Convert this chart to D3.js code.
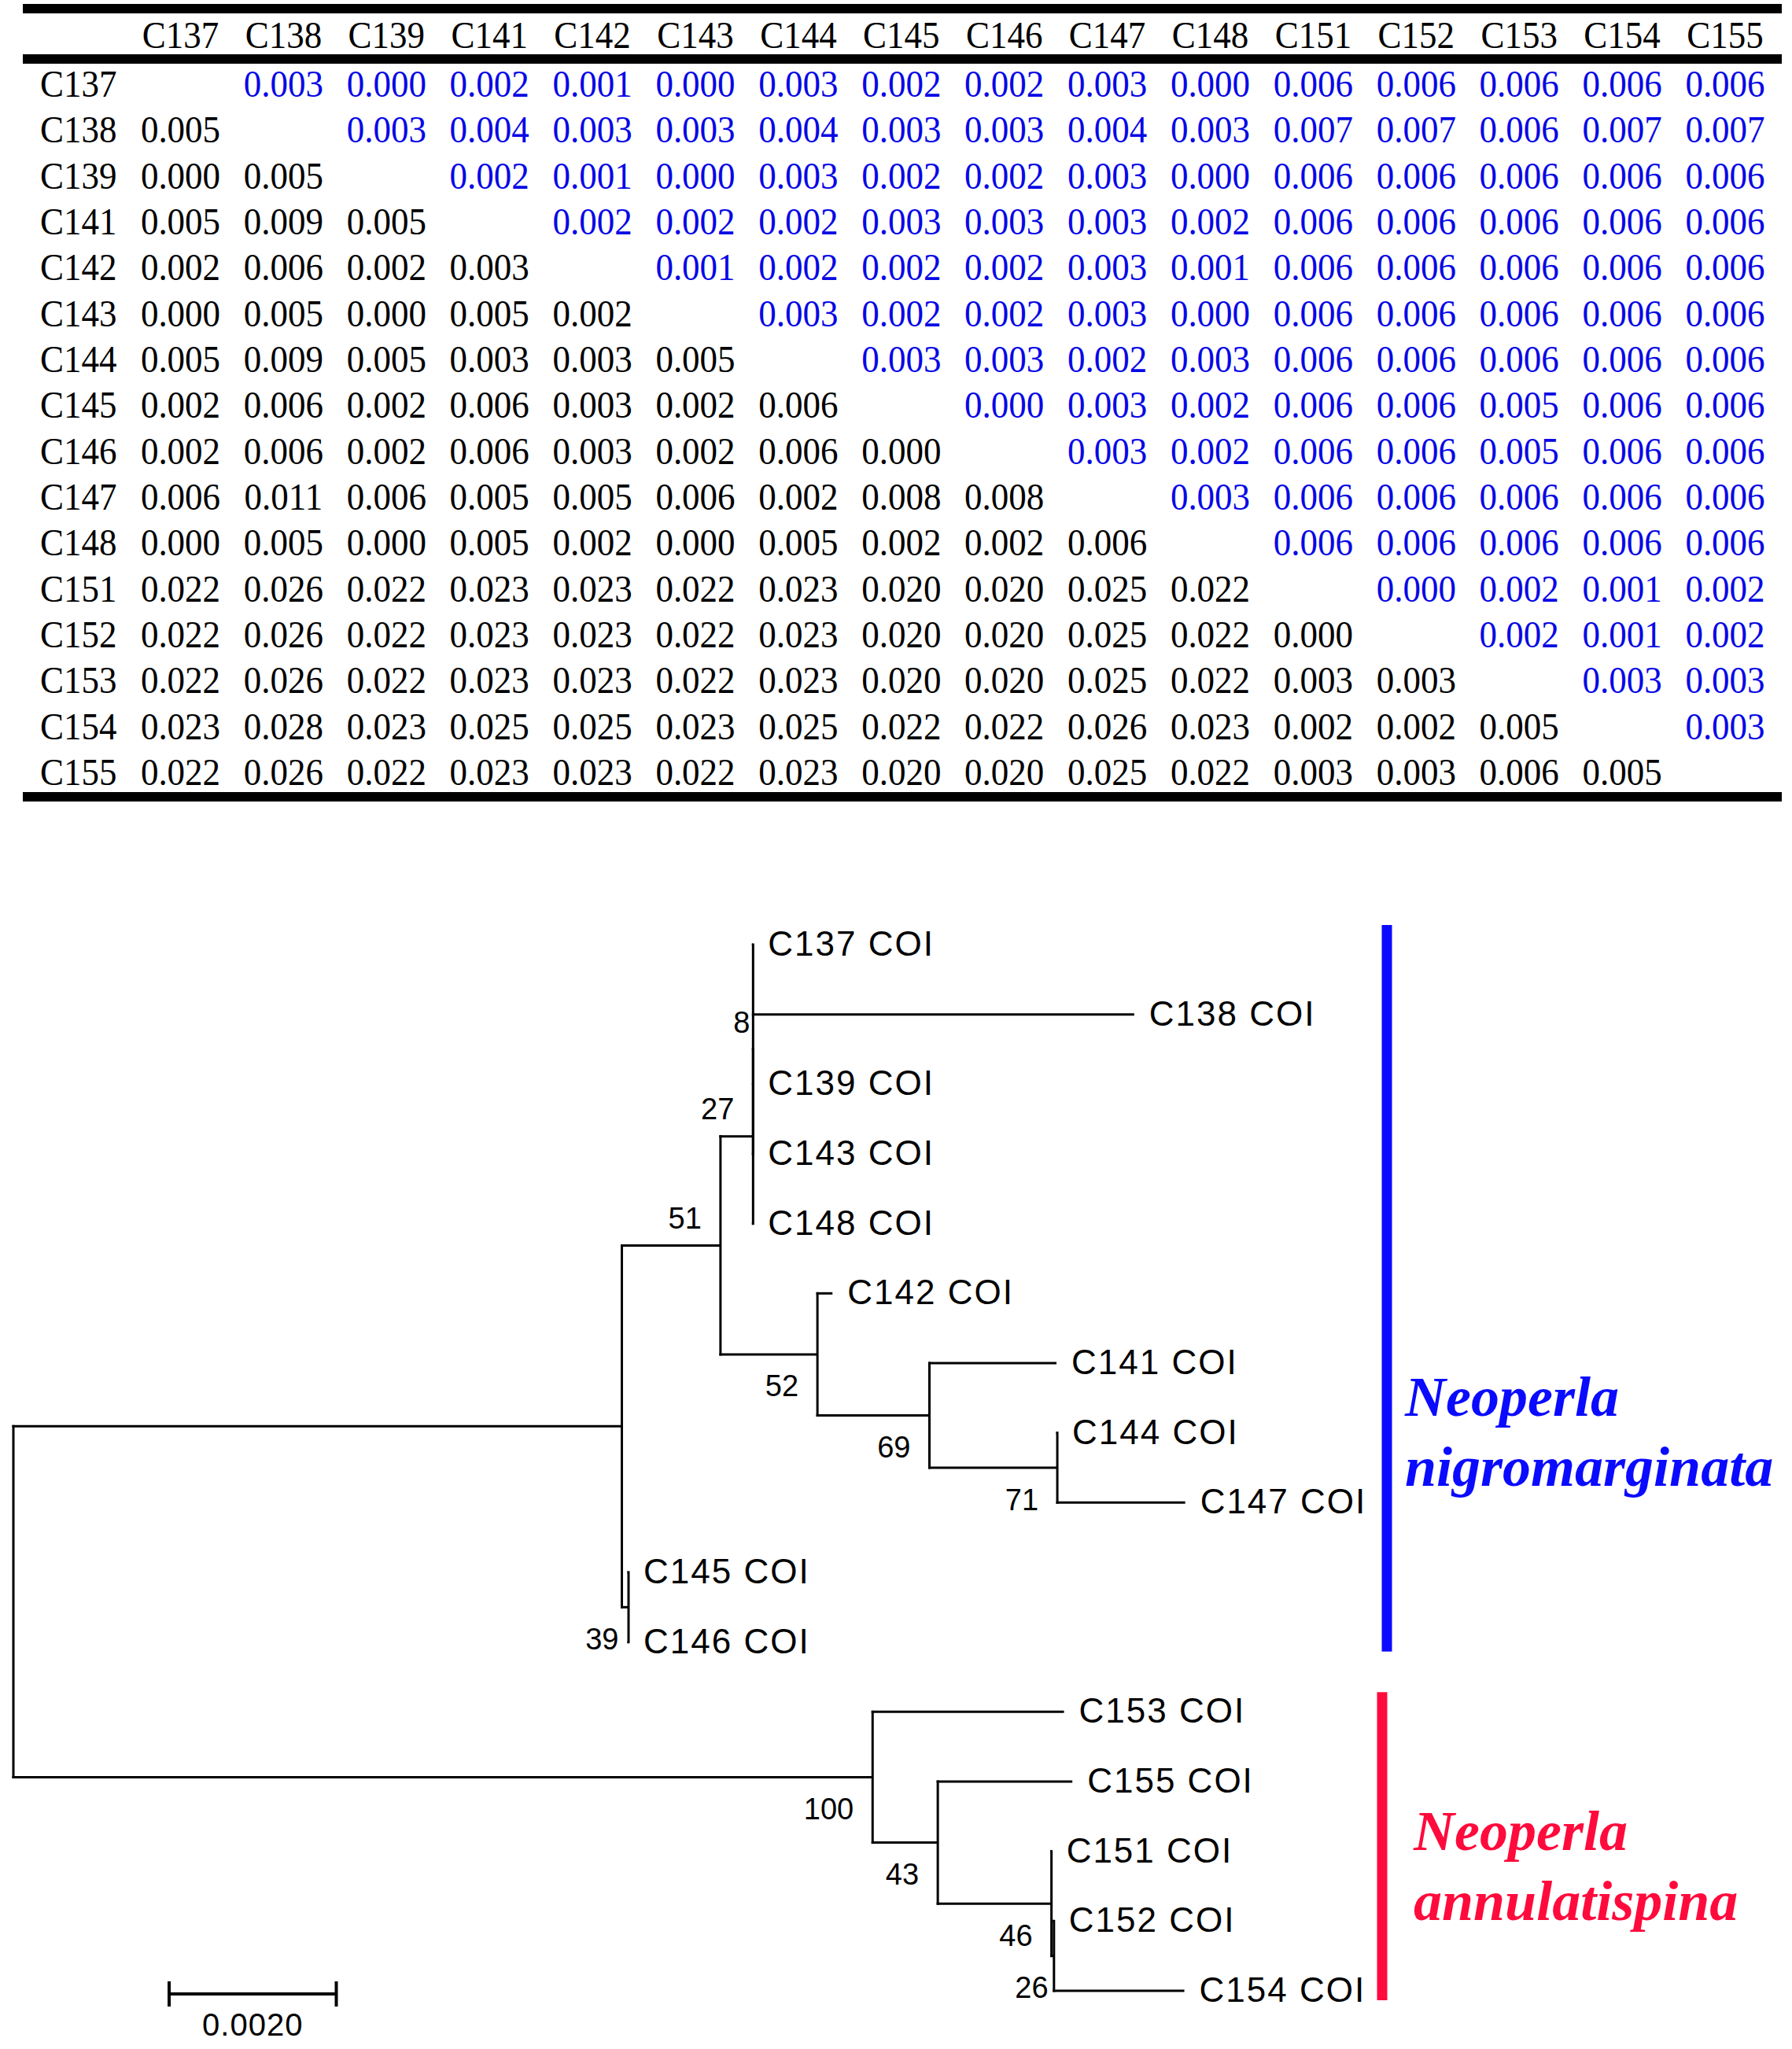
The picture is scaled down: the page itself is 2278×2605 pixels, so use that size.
<!DOCTYPE html>
<html>
<head>
<meta charset="utf-8">
<script src="https://cdn.jsdelivr.net/npm/d3@7"></script>
<style>
html,body{margin:0;padding:0;background:#ffffff;}
svg{display:block;}
</style>
</head>
<body>
<script>
// ---------------- DATA ----------------
const taxa = ["C137","C138","C139","C141","C142","C143","C144","C145","C146","C147","C148","C151","C152","C153","C154","C155"];

// upper triangle (blue), row i holds values for columns i+1..15
const upperValues = [
  [0.003,0.000,0.002,0.001,0.000,0.003,0.002,0.002,0.003,0.000,0.006,0.006,0.006,0.006,0.006],
  [0.003,0.004,0.003,0.003,0.004,0.003,0.003,0.004,0.003,0.007,0.007,0.006,0.007,0.007],
  [0.002,0.001,0.000,0.003,0.002,0.002,0.003,0.000,0.006,0.006,0.006,0.006,0.006],
  [0.002,0.002,0.002,0.003,0.003,0.003,0.002,0.006,0.006,0.006,0.006,0.006],
  [0.001,0.002,0.002,0.002,0.003,0.001,0.006,0.006,0.006,0.006,0.006],
  [0.003,0.002,0.002,0.003,0.000,0.006,0.006,0.006,0.006,0.006],
  [0.003,0.003,0.002,0.003,0.006,0.006,0.006,0.006,0.006],
  [0.000,0.003,0.002,0.006,0.006,0.005,0.006,0.006],
  [0.003,0.002,0.006,0.006,0.005,0.006,0.006],
  [0.003,0.006,0.006,0.006,0.006,0.006],
  [0.006,0.006,0.006,0.006,0.006],
  [0.000,0.002,0.001,0.002],
  [0.002,0.001,0.002],
  [0.003,0.003],
  [0.003],
  []
];

// lower triangle (black), row i holds values for columns 0..i-1
const lowerValues = [
  [],
  [0.005],
  [0.000,0.005],
  [0.005,0.009,0.005],
  [0.002,0.006,0.002,0.003],
  [0.000,0.005,0.000,0.005,0.002],
  [0.005,0.009,0.005,0.003,0.003,0.005],
  [0.002,0.006,0.002,0.006,0.003,0.002,0.006],
  [0.002,0.006,0.002,0.006,0.003,0.002,0.006,0.000],
  [0.006,0.011,0.006,0.005,0.005,0.006,0.002,0.008,0.008],
  [0.000,0.005,0.000,0.005,0.002,0.000,0.005,0.002,0.002,0.006],
  [0.022,0.026,0.022,0.023,0.023,0.022,0.023,0.020,0.020,0.025,0.022],
  [0.022,0.026,0.022,0.023,0.023,0.022,0.023,0.020,0.020,0.025,0.022,0.000],
  [0.022,0.026,0.022,0.023,0.023,0.022,0.023,0.020,0.020,0.025,0.022,0.003,0.003],
  [0.023,0.028,0.023,0.025,0.025,0.023,0.025,0.022,0.022,0.026,0.023,0.002,0.002,0.005],
  [0.022,0.026,0.022,0.023,0.023,0.022,0.023,0.020,0.020,0.025,0.022,0.003,0.003,0.006,0.005]
];

// tree: id, parent, branch length (substitutions/site), bootstrap support
const treeNodes = [
  {id:"root", parent:null,  length:0,       support:null},
  {id:"G",    parent:"root",length:0.00728, support:null},
  {id:"B",    parent:"G",   length:0.00118, support:51},
  {id:"A",    parent:"B",   length:0.00039, support:27},
  {id:"n8",   parent:"A",   length:0,       support:8},
  {id:"C137", parent:"n8",  length:0,       support:null},
  {id:"C138", parent:"n8",  length:0.00456, support:null},
  {id:"C139", parent:"n8",  length:0,       support:null},
  {id:"C143", parent:"n8",  length:0,       support:null},
  {id:"C148", parent:"A",   length:0,       support:null},
  {id:"D",    parent:"B",   length:0.00116, support:52},
  {id:"C142", parent:"D",   length:0.00018, support:null},
  {id:"E",    parent:"D",   length:0.00134, support:69},
  {id:"C141", parent:"E",   length:0.00152, support:null},
  {id:"F",    parent:"E",   length:0.00153, support:71},
  {id:"C144", parent:"F",   length:0,       support:null},
  {id:"C147", parent:"F",   length:0.00153, support:null},
  {id:"I",    parent:"G",   length:0.00008, support:39},
  {id:"C145", parent:"I",   length:0,       support:null},
  {id:"C146", parent:"I",   length:0,       support:null},
  {id:"H",    parent:"root",length:0.01028, support:100},
  {id:"C153", parent:"H",   length:0.00229, support:null},
  {id:"J",    parent:"H",   length:0.00078, support:43},
  {id:"C155", parent:"J",   length:0.00161, support:null},
  {id:"K",    parent:"J",   length:0.00136, support:46},
  {id:"C151", parent:"K",   length:0,       support:null},
  {id:"L",    parent:"K",   length:0.00003, support:26},
  {id:"C152", parent:"L",   length:0,       support:null},
  {id:"C154", parent:"L",   length:0.00156, support:null}
];
const leafSuffix = " COI";
const scaleBarValue = 0.002;
const scaleBarLabel = "0.0020";

const clades = [
  {lines:["Neoperla","nigromarginata"], first:"C137", last:"C146"},
  {lines:["Neoperla","annulatispina"],  first:"C153", last:"C154"}
];

// ---------------- STYLE ----------------
const W = 2278, H = 2605;
const blueText = "#0808e6";
const cladeColors = ["#0a0aff", "#ff0a3c"];
const cladeTextX = [1786, 1797];
const cladeTextY = [1800, 2352];
const cladeBarX = [1763, 1757];

const svg = d3.select("body").append("svg").attr("width", W).attr("height", H)
  .style("font-kerning","normal");

// ---------------- TABLE ----------------
const colX = d3.scalePoint().domain(taxa).range([229.5, 2193]);
const rowY = d3.scalePoint().domain(taxa).range([123, 998]);
const fmt = d3.format(".3f");
const tbl = svg.append("g").attr("font-family","'Liberation Serif','Times New Roman',serif")
  .attr("font-size", 45);

[5, 69, 1007].forEach(y => {
  tbl.append("rect").attr("x", 29).attr("y", y).attr("width", 2236).attr("height", 12).attr("fill","#000");
});

function cellText(x, y, txt, color, anchor) {
  tbl.append("text")
    .attr("transform", `translate(${x},${y}) scale(1,1.07)`)
    .attr("text-anchor", anchor || "middle")
    .attr("fill", color)
    .text(txt);
}
taxa.forEach(t => cellText(colX(t), 61, t, "#000"));
taxa.forEach((t, i) => {
  cellText(51, rowY(t), t, "#000", "start");
  lowerValues[i].forEach((v, j) => cellText(colX(taxa[j]), rowY(t), fmt(v), "#000"));
  upperValues[i].forEach((v, k) => cellText(colX(taxa[i + 1 + k]), rowY(t), fmt(v), blueText));
});

// ---------------- TREE ----------------
const root = d3.stratify().id(d => d.id).parentId(d => d.parent)(treeNodes);
root.eachBefore(n => { n.dist = n.parent ? n.parent.dist + n.data.length : 0; });
const leaves = root.leaves();
const yLeaf = d3.scalePoint().domain(leaves.map(d => d.id)).range([1201, 2531]);
root.eachAfter(n => {
  n.yy = n.children ? (n.children[0].yy + n.children[n.children.length - 1].yy) / 2 : yLeaf(n.id);
});
const x = d3.scaleLinear().domain([0, scaleBarValue]).range([17, 229.5]);

const tree = svg.append("g").attr("stroke", "#000").attr("fill", "none");
root.descendants().forEach(n => {
  if (n.parent) {
    tree.append("line")
      .attr("x1", x(n.parent.dist) - 1.5).attr("x2", x(n.dist))
      .attr("y1", n.yy).attr("y2", n.yy).attr("stroke-width", 3);
  }
  if (n.children) {
    tree.append("line")
      .attr("x1", x(n.dist)).attr("x2", x(n.dist))
      .attr("y1", n.children[0].yy - 1.5).attr("y2", n.children[n.children.length - 1].yy + 1.5)
      .attr("stroke-width", 3);
  }
});

const labelFont = "'Liberation Sans',Arial,sans-serif";
// leaf labels
svg.append("g").attr("font-family", labelFont).attr("font-size", 44).attr("letter-spacing", 2)
  .selectAll("text").data(leaves).join("text")
  .attr("x", d => x(d.dist) + 19).attr("y", d => d.yy + 14)
  .attr("fill", "#000")
  .text(d => d.id + leafSuffix);

// bootstrap labels
const supp = root.descendants().filter(n => n.data.support !== null && n.parent);
svg.append("g").attr("font-family", labelFont).attr("font-size", 38)
  .selectAll("text").data(supp).join("text")
  .attr("text-anchor", "end")
  .attr("x", d => x(d.dist) - (Math.min(x(d.dist) - x(d.parent.dist), 20) + 4))
  .attr("y", d => (d.parent.children[0] === d ? d.yy - 35 : d.yy + 40) + 13.5)
  .attr("fill", "#000")
  .text(d => d.data.support);

// scale bar
const sbLen = x(scaleBarValue) - x(0);
const sb = svg.append("g").attr("stroke", "#000").attr("stroke-width", 4);
sb.append("line").attr("x1", 215).attr("x2", 215 + sbLen).attr("y1", 2535).attr("y2", 2535);
sb.append("line").attr("x1", 215).attr("x2", 215).attr("y1", 2519).attr("y2", 2551);
sb.append("line").attr("x1", 215 + sbLen).attr("x2", 215 + sbLen).attr("y1", 2519).attr("y2", 2551);
svg.append("text").attr("x", 215 + sbLen / 2).attr("y", 2588).attr("text-anchor", "middle")
  .attr("font-family", labelFont).attr("font-size", 40).attr("letter-spacing", 1).text(scaleBarLabel);

// clade bars and names
clades.forEach((c, i) => {
  const y0 = yLeaf(c.first) - 25, y1 = yLeaf(c.last) + 12;
  svg.append("rect").attr("x", cladeBarX[i] - 6.5).attr("y", y0).attr("width", 13).attr("height", y1 - y0)
    .attr("fill", cladeColors[i]);
  c.lines.forEach((ln, k) => {
    svg.append("text")
      .attr("x", cladeTextX[i]).attr("y", cladeTextY[i] + k * 89)
      .attr("font-family", "'Liberation Serif','Times New Roman',serif")
      .attr("font-weight", "bold").attr("font-style", "italic").attr("font-size", 72)
      .attr("fill", cladeColors[i]).text(ln);
  });
});
</script>
</body>
</html>
